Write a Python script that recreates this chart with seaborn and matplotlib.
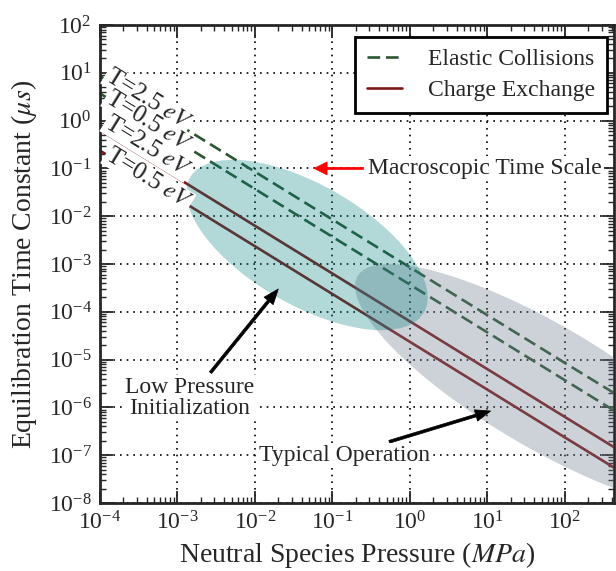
import numpy as np
import pandas as pd
import matplotlib
matplotlib.use("Agg")
import matplotlib.pyplot as plt
import matplotlib.transforms as mtransforms
from matplotlib.patches import Ellipse
from matplotlib.lines import Line2D
from matplotlib.ticker import LogLocator, NullFormatter, FixedLocator
import seaborn as sns

# ---------------- data ----------------
pressure = [1e-4, 1e-3, 1e-2, 1e-1, 1e0, 1e1, 1e2, 4.3e2]          # MPa
ec_t25 = [8.5, 0.85, 8.5e-2, 8.5e-3, 8.5e-4, 8.5e-5, 8.5e-6, 2.0e-6]  # us
ec_t05 = [3.7, 0.37, 3.7e-2, 3.7e-3, 3.7e-4, 3.7e-5, 3.7e-6, 8.6e-7]
cx_t25 = [0.63, 6.3e-2, 6.3e-3, 6.3e-4, 6.3e-5, 6.3e-6, 6.3e-7, 1.47e-7]
cx_t05 = [0.235, 2.35e-2, 2.35e-3, 2.35e-4, 2.35e-5, 2.35e-6, 2.35e-7, 5.5e-8]
series_names = ["EC 2.5", "EC 0.5", "CX 2.5", "CX 0.5"]
line_labels = ["T=2.5 $eV$", "T=0.5 $eV$", "T=2.5 $eV$", "T=0.5 $eV$"]
label_x = [4.2e-4, 4.2e-4, 4.1e-4, 4.2e-4]
label_y = [2.8, 0.94, 0.28, 0.06]
legend_labels = ["Elastic Collisions", "Charge Exchange"]
x_ticks = [1e-4, 1e-3, 1e-2, 1e-1, 1e0, 1e1, 1e2]
y_ticks = [1e-8, 1e-7, 1e-6, 1e-5, 1e-4, 1e-3, 1e-2, 1e-1, 1e0, 1e1, 1e2]
x_limits = (1e-4, 4.3e2)
y_limits = (1e-8, 1e2)
macro_scale = 0.1          # us, macroscopic time scale
macro_arrow_x = 0.058
macro_text_x = 0.29
low_p_target = (0.02, 3.0e-4)
low_p_text = (1.45e-3, 1.58e-6)
typ_target = (11.0, 8.4e-7)
typ_text = (0.145, 1.0e-7)

# ---------------- style ----------------
sns.set_style("ticks")
plt.rcParams["font.family"] = ["Liberation Serif", "DejaVu Serif"]
plt.rcParams["mathtext.fontset"] = "stix"
plt.rcParams["axes.linewidth"] = 2.0

green = "#2a5630"
red = "#7e1717"
palette = {"EC 2.5": green, "EC 0.5": green, "CX 2.5": red, "CX 0.5": red}
dashes = {"EC 2.5": (4.8, 2.2), "EC 0.5": (4.8, 2.2), "CX 2.5": "", "CX 0.5": ""}

W, H = 616, 571
fig = plt.figure(figsize=(W / 100, H / 100), dpi=100)
AX_L, AX_R, AX_T, AX_B = 100, 614, 25, 503
ax = fig.add_axes([AX_L / W, (H - AX_B) / H, (AX_R - AX_L) / W, (AX_B - AX_T) / H])
ax.set_xscale("log")
ax.set_yscale("log")

df = pd.concat([
    pd.DataFrame({"pressure": pressure, "tau": vals, "series": name})
    for name, vals in zip(series_names, [ec_t25, ec_t05, cx_t25, cx_t05])
])
sns.lineplot(data=df, x="pressure", y="tau", hue="series", style="series",
             palette=palette, dashes=dashes, linewidth=1.9, legend=False,
             ax=ax, zorder=2)

ax.set_xlim(*x_limits)
ax.set_ylim(*y_limits)
ax.xaxis.set_major_locator(FixedLocator(x_ticks))
ax.yaxis.set_major_locator(FixedLocator(y_ticks))
ax.xaxis.set_minor_locator(LogLocator(base=10, subs=np.arange(2, 10), numticks=100))
ax.yaxis.set_minor_locator(LogLocator(base=10, subs=np.arange(2, 10), numticks=100))
ax.xaxis.set_minor_formatter(NullFormatter())
ax.yaxis.set_minor_formatter(NullFormatter())
ax.tick_params(which="both", direction="in", top=True, right=True, labelsize=17)
ax.tick_params(which="major", length=9, width=1.3, pad=6)
ax.tick_params(which="minor", length=4.5, width=1.0)
ax.grid(True, which="major", color="black", linestyle=(0, (1, 3)), linewidth=1.2)

ax.set_xlabel("Neutral Species Pressure ($MPa$)", fontsize=20, labelpad=4)
ax.set_ylabel("Equilibration Time Constant ($\\mu s$)", fontsize=20, labelpad=7)

# operating regions (ellipses in axes-pixel space so they stay true ellipses)
px = mtransforms.Affine2D().scale(1 / (AX_R - AX_L), 1 / (AX_B - AX_T)) + ax.transAxes
ax.add_patch(Ellipse((445, 116.5), 435, 122.6, angle=-30.5, facecolor="slategray",
                     alpha=0.35, edgecolor="none", transform=px, zorder=3))
ax.add_patch(Ellipse((207, 258), 270, 120, angle=-30, facecolor="teal",
                     alpha=0.3, edgecolor="none", transform=px, zorder=3))

# inline line labels, rotated along their lines
for vals, lab, lx, ly in zip([ec_t25, ec_t05, cx_t25, cx_t05], line_labels, label_x, label_y):
    p1 = ax.transData.transform((pressure[0], vals[0]))
    p2 = ax.transData.transform((pressure[-1], vals[-1]))
    ang = np.degrees(np.arctan2(p2[1] - p1[1], p2[0] - p1[0]))
    ax.text(lx, ly, lab, rotation=ang, rotation_mode="anchor",
            ha="center", va="center", fontsize=18, zorder=6,
            bbox=dict(facecolor="white", edgecolor="none", pad=0.5))

# annotations
white_box = dict(facecolor="white", edgecolor="none", pad=1.5)
ax.annotate("Macroscopic Time Scale", xy=(macro_arrow_x, macro_scale),
            xytext=(macro_text_x, macro_scale), ha="left", va="center", fontsize=17,
            bbox=white_box,
            arrowprops=dict(arrowstyle="simple,head_length=0.55,head_width=0.55,tail_width=0.09",
                            facecolor="red", edgecolor="red", lw=0.5,
                            shrinkA=2, shrinkB=0), zorder=6)
ax.annotate("Low Pressure\nInitialization", xy=low_p_target, xytext=low_p_text,
            ha="center", va="center", fontsize=17, linespacing=1.0, bbox=white_box,
            arrowprops=dict(arrowstyle="simple,head_length=0.65,head_width=0.5,tail_width=0.12",
                            facecolor="black", edgecolor="black", lw=0.5,
                            shrinkA=2, shrinkB=0), zorder=6)
ax.annotate("Typical Operation", xy=typ_target, xytext=typ_text,
            ha="center", va="center", fontsize=17, bbox=white_box,
            arrowprops=dict(arrowstyle="simple,head_length=0.65,head_width=0.5,tail_width=0.12",
                            facecolor="black", edgecolor="black", lw=0.5,
                            shrinkA=2, shrinkB=0), zorder=6)

handles = [Line2D([], [], color=green, lw=1.9, dashes=(4.8, 2.2)),
           Line2D([], [], color=red, lw=1.9)]
leg = ax.legend(handles, legend_labels, loc="upper right",
                bbox_to_anchor=((607 - AX_L) / (AX_R - AX_L), (AX_B - 37) / (AX_B - AX_T)),
                borderaxespad=0, fancybox=False, framealpha=1, edgecolor="black",
                fontsize=17, handlelength=1.5, handletextpad=1.1, borderpad=0.5,
                labelspacing=0.4)
leg.get_frame().set_linewidth(2.0)
leg.set_zorder(7)

fig.savefig("out.png", dpi=100)
